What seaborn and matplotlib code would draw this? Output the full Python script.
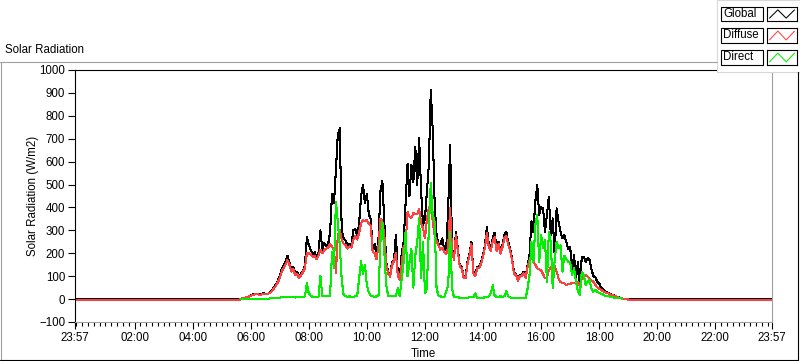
import matplotlib
matplotlib.use("Agg")
import matplotlib.pyplot as plt
import matplotlib.dates as mdates
from matplotlib.lines import Line2D
from matplotlib.patches import Rectangle
import numpy as np
import pandas as pd
import seaborn as sns

sns.set_theme(style="white")
plt.rcParams["font.family"] = ["Liberation Sans", "DejaVu Sans"]

# ---- data (W/m2), 4-minute samples from 05:40 to 19:00 ----
global_day = [
    1, 4, 6, 8, 12,
    15, 20, 21, 22, 22, 21, 24, 25, 23, 24, 30, 39, 50, 64, 80,
    100, 130, 145, 165, 190, 160, 128, 140, 112, 118, 95, 110, 125, 145, 270,
    236, 215, 195, 205, 182, 200, 300, 215, 245, 232, 240, 290, 460, 420, 560,
    720, 745, 300, 265, 255, 235, 240, 230, 300, 305, 275, 330, 450, 500, 420,
    460, 370, 350, 215, 240, 190, 265, 470, 515, 340, 160, 118, 100, 163, 170,
    280, 105, 90, 200, 250, 425, 590, 450, 585, 512, 665, 498, 702, 475, 323,
    352, 469, 585, 913, 740, 420, 279, 235, 240, 265, 210, 221, 396, 672, 221,
    178, 294, 220, 145, 141, 97, 97, 163, 200, 250, 119, 105, 141, 141, 163,
    195, 235, 316, 235, 221, 265, 290, 221, 250, 207, 235, 279, 294, 250, 221,
    178, 115, 110, 83, 105, 105, 119, 97, 148, 192, 340, 294, 425, 498, 367,
    400, 396, 294, 367, 447, 279, 352, 192, 396, 338, 294, 265, 279, 250, 220,
    228, 120, 192, 90, 163, 61, 185, 185, 163, 178, 170, 130, 100, 95, 75,
    68, 50, 45, 35, 29, 25, 22, 18, 15, 11, 8, 5, 3, 1, 0,
    0,
]
diffuse_day = [
    1, 4, 6, 8, 11,
    14, 19, 20, 21, 20, 16, 22, 24, 22, 23, 28, 36, 46, 58, 72,
    92, 120, 135, 150, 170, 150, 120, 130, 105, 110, 90, 104, 118, 135, 200,
    200, 195, 185, 190, 175, 190, 215, 200, 215, 220, 225, 240, 230, 215, 115,
    280, 300, 260, 240, 235, 220, 230, 225, 260, 275, 260, 290, 330, 345, 340,
    345, 330, 320, 205, 200, 175, 230, 350, 340, 280, 150, 112, 98, 150, 165,
    200, 100, 85, 155, 230, 235, 380, 360, 355, 375, 370, 370, 395, 330, 310,
    265, 350, 400, 410, 340, 280, 255, 235, 215, 225, 205, 195, 230, 396, 210,
    170, 280, 210, 140, 135, 92, 92, 155, 190, 240, 112, 100, 135, 135, 155,
    185, 225, 290, 225, 210, 250, 270, 210, 240, 198, 225, 265, 275, 240, 210,
    170, 110, 105, 80, 100, 100, 112, 92, 140, 170, 185, 165, 150, 135, 130,
    125, 110, 90, 95, 125, 140, 135, 145, 120, 90, 75, 70, 68, 62, 65,
    66, 70, 72, 70, 75, 58, 90, 100, 105, 98, 90, 82, 75, 62, 52,
    45, 40, 35, 30, 27, 24, 20, 17, 14, 10, 7, 4, 2, 1, 0,
    -2,
]
direct_day = [
    0, 0, 1, 1, 2,
    2, 2, 2, 2, 2, 2, 2, 2, 2, 2, 3, 3, 4, 5, 6,
    6, 8, 8, 9, 10, 8, 8, 8, 7, 8, 8, 9, 10, 12, 69,
    25, 15, 10, 10, 10, 10, 100, 15, 14, 14, 15, 15, 206, 135, 425,
    338, 235, 85, 18, 12, 10, 12, 10, 10, 12, 15, 90, 165, 110, 150,
    60, 30, 15, 12, 10, 12, 15, 250, 338, 206, 60, 15, 12, 15, 12,
    15, 47, 12, 90, 160, 294, 100, 160, 220, 50, 190, 250, 352, 90, 250,
    25, 45, 308, 505, 367, 338, 45, 15, 12, 10, 10, 35, 60, 294, 45,
    8, 10, 8, 6, 5, 6, 5, 5, 8, 10, 8, 25, 5, 6, 5,
    6, 8, 10, 12, 25, 60, 15, 10, 10, 12, 10, 12, 35, 12, 8,
    5, 5, 4, 3, 3, 3, 3, 3, 45, 105, 250, 160, 323, 367, 160,
    279, 221, 260, 76, 294, 250, 47, 170, 250, 221, 235, 120, 190, 175, 163,
    160, 105, 134, 76, 32, 17, 119, 105, 61, 76, 83, 47, 32, 40, 32,
    28, 22, 20, 15, 14, 12, 10, 8, 6, 5, 4, 3, 2, np.nan, np.nan,
    np.nan,
]
night_global = 0.0
night_diffuse = -4.0

series_names = ["Global", "Diffuse", "Direct"]
series_colors = ["#000000", "#ff4040", "#00f000"]

# ---- time axis ----
day = pd.Timestamp("2015-06-02")
start = day - pd.Timedelta(minutes=3)          # 23:57 of the previous day
end = start + pd.Timedelta(hours=24)           # 23:57
day_times = pd.date_range(day + pd.Timedelta("05:40:00"), periods=len(global_day), freq="4min")
night_times = [start, day + pd.Timedelta("05:36:00"), day + pd.Timedelta("19:04:00"), end]

times_all = list(night_times[:2]) + list(day_times) + list(night_times[2:])
df_global = pd.DataFrame({"time": times_all,
                          "value": [night_global] * 2 + global_day + [night_global] * 2})
df_diffuse = pd.DataFrame({"time": times_all,
                           "value": [night_diffuse] * 2 + diffuse_day + [night_diffuse] * 2})
df_direct = pd.DataFrame({"time": day_times, "value": direct_day}).dropna()


def fx(px):
    return px / 800.0


def fy(py):
    return 1.0 - py / 361.0


fig = plt.figure(figsize=(8, 3.61), dpi=100)
fig.patch.set_facecolor("white")
ax = fig.add_axes([fx(75), fy(322), 697 / 800, 252 / 361])
ax.set_facecolor("white")

for df, color in zip([df_global, df_diffuse, df_direct], series_colors):
    sns.lineplot(data=df, x="time", y="value", ax=ax, color=color, linewidth=0.75,
                 estimator=None, sort=False, antialiased=False)

ax.set_xlim(start, end)
ax.set_ylim(-100, 1000)
ax.set_yticks(range(-100, 1001, 100))

major = [start] + [day + pd.Timedelta(hours=h) for h in range(2, 24, 2)] + [end]
ax.xaxis.set_major_locator(matplotlib.ticker.FixedLocator(mdates.date2num(major)))
ax.xaxis.set_major_formatter(mdates.DateFormatter("%H:%M"))
ax.xaxis.set_minor_locator(mdates.MinuteLocator(byminute=range(0, 60, 12)))

ax.tick_params(which="both", bottom=True, left=True, top=False, right=False,
               direction="out", colors="black", labelsize=8.3, width=0.8)
ax.tick_params(axis="x", which="major", length=5, pad=2)
ax.tick_params(axis="x", which="minor", length=3)
ax.tick_params(axis="y", which="major", length=5, pad=2)

for side in ["top", "left"]:
    ax.spines[side].set_color("black")
    ax.spines[side].set_linewidth(0.8)
for side in ["right", "bottom"]:
    ax.spines[side].set_color("#a0a0a0")
    ax.spines[side].set_linewidth(0.8)

ax.set_xlabel("Time", fontsize=8.3, color="black")
ax.set_ylabel("Solar Radiation (W/m2)", fontsize=8.3, color="black")
ax.xaxis.set_label_coords(0.5, -0.127)
ax.xaxis.label.set_va("center")
ax.yaxis.set_label_coords(-0.060, 0.5)
ax.yaxis.label.set_va("center")

fig.text(fx(5), fy(50), "Solar Radiation", fontsize=8.3, va="center", ha="left", color="black")

# outer frame
frame = [((0, 62), (717, 62), "#a0a0a0"), ((0.5, 62), (0.5, 361), "#a0a0a0"),
         ((0, 360), (798, 360), "black"), ((797.5, 72), (797.5, 361), "black")]
for (x0, y0), (x1, y1), c in frame:
    fig.add_artist(Line2D([fx(x0), fx(x1)], [fy(y0), fy(y1)], color=c, lw=0.8,
                          transform=fig.transFigure))

# legend panel
fig.add_artist(Rectangle((fx(717), fy(72)), fx(83), 72 / 361, transform=fig.transFigure,
                         facecolor="white", edgecolor="#d8d8d8", lw=0.8, zorder=1))
rows = [(7, 21), (28, 43), (50, 65)]
for name, color, (t, b) in zip(series_names, series_colors, rows):
    fig.add_artist(Rectangle((fx(721), fy(b)), fx(42), (b - t) / 361, transform=fig.transFigure,
                             facecolor="white", edgecolor="black", lw=0.8, zorder=2))
    fig.text(fx(723), fy((t + b) / 2), name, fontsize=8.3, va="center", ha="left",
             color="black", zorder=3)
    sw = fig.add_axes([fx(767), fy(b), fx(30), (b - t) / 361])
    sw.set_zorder(5)
    sw.set_facecolor("white")
    sw.plot([0, 1, 2, 3], [0, 1, 0, 1], color=color, lw=0.75)
    sw.set_xlim(-0.3, 3.3)
    sw.set_ylim(-0.35, 1.35)
    sw.set_xticks([])
    sw.set_yticks([])
    for s in sw.spines.values():
        s.set_color("black")
        s.set_linewidth(0.8)

fig.savefig("out.png", dpi=100)
